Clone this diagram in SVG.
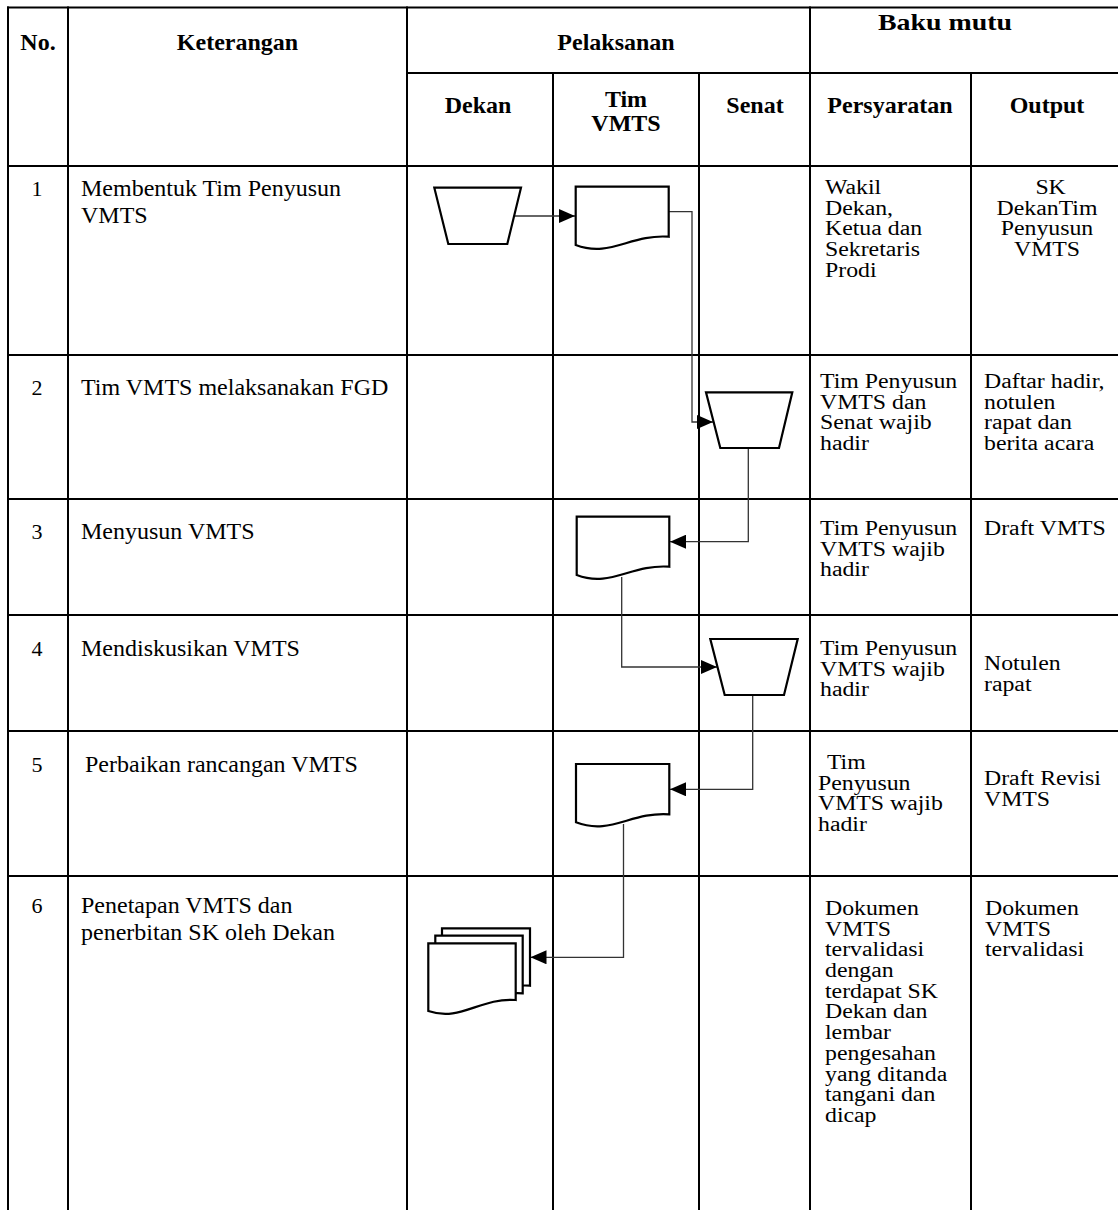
<svg xmlns="http://www.w3.org/2000/svg" width="1118" height="1210" viewBox="0 0 1118 1210">
<style>
.grid line{stroke:#000;stroke-width:2}
.shape{fill:#fff;stroke:#000;stroke-width:2.2;stroke-linejoin:miter}
.conn{fill:none;stroke:#333;stroke-width:1.3}
text{font-family:"Liberation Serif","Times New Roman",serif;fill:#000}
.h{font-size:24px;font-weight:bold}
.k{font-size:24px}
.n{font-size:22px}
.s{font-size:20px}
</style>
<defs>
<marker id="arr" viewBox="0 0 16 14" refX="16" refY="7" markerWidth="16" markerHeight="14" markerUnits="userSpaceOnUse" orient="auto">
<path d="M0,0 L16,7 L0,14 z" fill="#000"/>
</marker>
</defs>
<rect width="1118" height="1210" fill="#fff"/>
<g id="table" class="grid">
<line x1="7" y1="7.5" x2="1118" y2="7.5"/>
<line x1="407" y1="73" x2="1118" y2="73"/>
<line x1="7" y1="166" x2="1118" y2="166"/>
<line x1="7" y1="355" x2="1118" y2="355"/>
<line x1="7" y1="499" x2="1118" y2="499"/>
<line x1="7" y1="615" x2="1118" y2="615"/>
<line x1="7" y1="731" x2="1118" y2="731"/>
<line x1="7" y1="876" x2="1118" y2="876"/>
<line x1="8" y1="6.5" x2="8" y2="1210"/>
<line x1="68" y1="6.5" x2="68" y2="1210"/>
<line x1="407" y1="6.5" x2="407" y2="1210"/>
<line x1="553" y1="73" x2="553" y2="1210"/>
<line x1="699" y1="73" x2="699" y2="1210"/>
<line x1="810" y1="6.5" x2="810" y2="1210"/>
<line x1="971" y1="73" x2="971" y2="1210"/>
</g>
<g id="header" class="h" text-anchor="middle">
<text x="38" y="50">No.</text>
<text x="237.5" y="50">Keterangan</text>
<text x="616" y="50">Pelaksanan</text>
<text x="945" y="30" textLength="134" lengthAdjust="spacingAndGlyphs">Baku mutu</text>
<text x="478" y="113">Dekan</text>
<text x="626" y="107">Tim</text>
<text x="626" y="131">VMTS</text>
<text x="755" y="113">Senat</text>
<text x="890" y="113">Persyaratan</text>
<text x="1047" y="113">Output</text>
</g>
<g id="numbers" class="n" text-anchor="middle">
<text x="37" y="196">1</text>
<text x="37" y="395">2</text>
<text x="37" y="539">3</text>
<text x="37" y="656">4</text>
<text x="37" y="772">5</text>
<text x="37" y="913">6</text>
</g>
<g id="keterangan" class="k">
<text x="81" y="196">Membentuk Tim Penyusun<tspan x="81" dy="27">VMTS</tspan></text>
<text x="81" y="395">Tim VMTS melaksanakan FGD</text>
<text x="81" y="539">Menyusun VMTS</text>
<text x="81" y="656">Mendiskusikan VMTS</text>
<text x="85" y="772">Perbaikan rancangan VMTS</text>
<text x="81" y="913">Penetapan VMTS dan<tspan x="81" dy="27">penerbitan SK oleh Dekan</tspan></text>
</g>
<g id="persyaratan" class="s">
<text transform="translate(825,194) scale(1.19,1)"><tspan x="0">Wakil</tspan><tspan x="0" dy="20.7">Dekan,</tspan><tspan x="0" dy="20.7">Ketua dan</tspan><tspan x="0" dy="20.7">Sekretaris</tspan><tspan x="0" dy="20.7">Prodi</tspan></text>
<text transform="translate(820,388) scale(1.19,1)"><tspan x="0">Tim Penyusun</tspan><tspan x="0" dy="20.7">VMTS dan</tspan><tspan x="0" dy="20.7">Senat wajib</tspan><tspan x="0" dy="20.7">hadir</tspan></text>
<text transform="translate(820,535) scale(1.19,1)"><tspan x="0">Tim Penyusun</tspan><tspan x="0" dy="20.7">VMTS wajib</tspan><tspan x="0" dy="20.7">hadir</tspan></text>
<text transform="translate(820,655) scale(1.19,1)"><tspan x="0">Tim Penyusun</tspan><tspan x="0" dy="20.7">VMTS wajib</tspan><tspan x="0" dy="20.7">hadir</tspan></text>
<text transform="translate(818,769) scale(1.19,1)"><tspan x="7.5">Tim</tspan><tspan x="0" dy="20.7">Penyusun</tspan><tspan x="0" dy="20.7">VMTS wajib</tspan><tspan x="0" dy="20.7">hadir</tspan></text>
<text transform="translate(825,915) scale(1.19,1)"><tspan x="0">Dokumen</tspan><tspan x="0" dy="20.7">VMTS</tspan><tspan x="0" dy="20.7">tervalidasi</tspan><tspan x="0" dy="20.7">dengan</tspan><tspan x="0" dy="20.7">terdapat SK</tspan><tspan x="0" dy="20.7">Dekan dan</tspan><tspan x="0" dy="20.7">lembar</tspan><tspan x="0" dy="20.7">pengesahan</tspan><tspan x="0" dy="20.7">yang ditanda</tspan><tspan x="0" dy="20.7">tangani dan</tspan><tspan x="0" dy="20.7">dicap</tspan></text>
</g>
<g id="output" class="s">
<text transform="translate(1047,194) scale(1.19,1)" text-anchor="middle"><tspan x="3">SK</tspan><tspan x="0" dy="20.7">DekanTim</tspan><tspan x="0" dy="20.7">Penyusun</tspan><tspan x="0" dy="20.7">VMTS</tspan></text>
<text transform="translate(984,388) scale(1.19,1)"><tspan x="0">Daftar hadir,</tspan><tspan x="0" dy="20.7">notulen</tspan><tspan x="0" dy="20.7">rapat dan</tspan><tspan x="0" dy="20.7">berita acara</tspan></text>
<text transform="translate(984,535) scale(1.19,1)">Draft VMTS</text>
<text transform="translate(984,670) scale(1.19,1)"><tspan x="0">Notulen</tspan><tspan x="0" dy="20.7">rapat</tspan></text>
<text transform="translate(984,785) scale(1.19,1)"><tspan x="0">Draft Revisi</tspan><tspan x="0" dy="20.7">VMTS</tspan></text>
<text transform="translate(985,915) scale(1.19,1)"><tspan x="0">Dokumen</tspan><tspan x="0" dy="20.7">VMTS</tspan><tspan x="0" dy="20.7">tervalidasi</tspan></text>
</g>
<g id="connectors">
<path class="conn" d="M514,216 H575" marker-end="url(#arr)"/>
<path class="conn" d="M669,211.7 H692 V422 H713" marker-end="url(#arr)"/>
<path class="conn" d="M748.3,448 V541.7 H670" marker-end="url(#arr)"/>
<path class="conn" d="M621.7,577 V667 H717" marker-end="url(#arr)"/>
<path class="conn" d="M752.7,695 V789.3 H670" marker-end="url(#arr)"/>
<path class="conn" d="M623.5,824 V957.3 H530.5" marker-end="url(#arr)"/>
</g>
<g id="n1-start"><path class="shape" d="M434.3,187.7 H521 L507.3,244 H448.3 Z"/></g>
<g id="n1-doc"><path class="shape" d="M575.7,186.7 h93 v50 c-38.7,-2.7 -58.7,21.3 -93,8.3 z"/></g>
<g id="n2-fgd"><path class="shape" d="M706,392.3 H792.3 L779,448 H720.3 Z"/></g>
<g id="n3-doc"><path class="shape" d="M576.7,516.7 h92.6 v50 c-38.7,-2.7 -58.7,21.3 -92.6,8.3 z"/></g>
<g id="n4-diskusi"><path class="shape" d="M710.3,639 H797.7 L784,695 H724.7 Z"/></g>
<g id="n5-doc"><path class="shape" d="M576,764 h93.3 v50.3 c-38.7,-2.7 -58.7,21.3 -93.3,8 z"/></g>
<g id="n6-docs">
<path class="shape" d="M442,928.3 h88 v57.4 c-36,-2.5 -55,22 -88,11 z"/>
<path class="shape" d="M435.3,935.7 h87.4 v57.6 c-36,-2.5 -55,22 -87.4,11 z"/>
<path class="shape" d="M428.3,943.3 h87.4 v56.7 c-36,-2.5 -55,22 -87.4,11 z"/>
</g>
</svg>
